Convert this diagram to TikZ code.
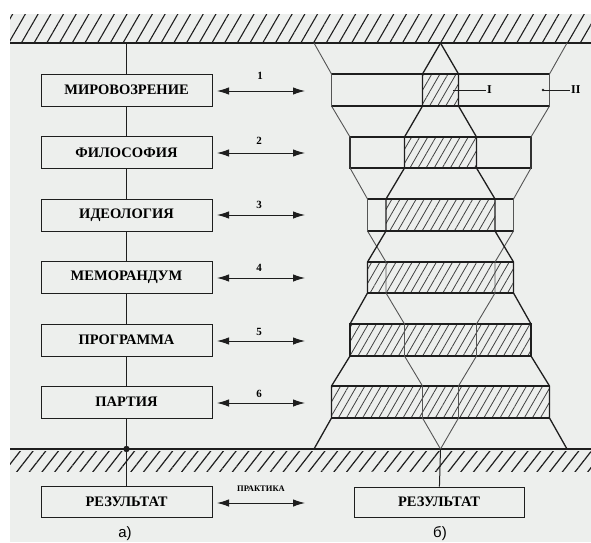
\documentclass[tikz,border=0pt]{standalone}
\usepackage{fontspec}
\setmainfont{Liberation Serif}
\newfontfamily\captfont{Liberation Sans}
\usepackage{tikz}
\usetikzlibrary{arrows.meta, patterns.meta}

\definecolor{paper}{HTML}{EDEFED}
\definecolor{ink}{HTML}{1E1E1E}
\definecolor{soft}{HTML}{555555}

\tikzset{
  stage/.style={draw=ink, line width=1pt, fill=paper, inner sep=0,
    minimum width=171, minimum height=32, font=\fontsize{14.5}{14.5}\selectfont\bfseries},
  link/.style={{Latex[length=12pt,width=7.5pt]}-{Latex[length=12pt,width=7.5pt]}, line width=1pt, ink},
  num/.style={inner sep=0, font=\fontsize{11}{11}\selectfont\bfseries},
  tag/.style={inner sep=1, font=\fontsize{12}{12}\selectfont\bfseries},
  hatchI/.style={pattern={Lines[angle=60,distance=7pt,line width=0.8pt]}, pattern color=ink!85},
  rowline/.style={line width=1.1pt, ink},
  flowI/.style={line width=1.3pt, ink, line join=round},
  flowII/.style={line width=0.9pt, soft, line join=round}
}

\begin{document}
\begin{tikzpicture}[x=1pt, y=-1pt]
  \useasboundingbox (0,0) rectangle (591,542);
  \fill[paper] (10,14) rectangle (591,542);

  % ground, top and bottom
  \fill[pattern={Lines[angle=60,distance=11pt,line width=1.1pt]}, pattern color=ink] (10,14) rectangle (591,43);
  \draw[line width=1.5pt, ink] (10,43) -- (591,43);
  \fill[pattern={Lines[angle=52,distance=10pt,line width=1.2pt]}, pattern color=ink] (10,451) rectangle (591,471);
  \draw[line width=1.5pt, ink] (10,449) -- (591,449);

  % a) chain of stages
  \coordinate (topA) at (126.5,43);
  \coordinate (dotA) at (126.5,449);
  \node[stage] (mir) at (126.5,90) {МИРОВОЗРЕНИЕ};
  \node[stage] (fil) at (126.5,152.5) {ФИЛОСОФИЯ};
  \node[stage] (ide) at (126.5,215) {ИДЕОЛОГИЯ};
  \node[stage] (mem) at (126.5,277.5) {МЕМОРАНДУМ};
  \node[stage] (prog) at (126.5,340) {ПРОГРАММА};
  \node[stage] (part) at (126.5,402) {ПАРТИЯ};
  \node[stage, minimum height=31] (resA) at (126.5,501.5) {РЕЗУЛЬТАТ};
  \draw[line width=1pt, ink] (topA) -- (mir) -- (fil) -- (ide) -- (mem) -- (prog) -- (part) -- (resA);
  \fill[ink] (dotA) circle (3.2);

  % arrows between a) and b)
  \coordinate (l1) at (217,91);  \coordinate (r1) at (305,91);
  \coordinate (l2) at (217,153); \coordinate (r2) at (305,153);
  \coordinate (l3) at (217,215); \coordinate (r3) at (305,215);
  \coordinate (l4) at (217,278); \coordinate (r4) at (305,278);
  \coordinate (l5) at (217,341); \coordinate (r5) at (305,341);
  \coordinate (l6) at (217,403); \coordinate (r6) at (305,403);
  \coordinate (l7) at (217,503); \coordinate (r7) at (305,503);
  \draw[link] (l1) -- (r1);
  \draw[link] (l2) -- (r2);
  \draw[link] (l3) -- (r3);
  \draw[link] (l4) -- (r4);
  \draw[link] (l5) -- (r5);
  \draw[link] (l6) -- (r6);
  \draw[link] (l7) -- (r7);
  \node[num] (n1) at (260,76) {1};
  \node[num] (n2) at (259,141) {2};
  \node[num] (n3) at (259,205) {3};
  \node[num] (n4) at (259,268) {4};
  \node[num] (n5) at (259,332) {5};
  \node[num] (n6) at (259,394) {6};
  \node[inner sep=0, font=\fontsize{8.5}{8.5}\selectfont\bfseries] (prak) at (261,489) {ПРАКТИКА};

  % b) two streams
  \begin{scope}[shift={(440.5,0)}]
    \fill[hatchI] (-18,74) rectangle (18,106);
    \fill[hatchI] (-36,137) rectangle (36,168);
    \fill[hatchI] (-54.5,199) rectangle (54.5,231);
    \fill[hatchI] (-73,262) rectangle (73,293);
    \fill[hatchI] (-90.5,324) rectangle (90.5,356);
    \fill[hatchI] (-109,386) rectangle (109,418);

    \draw[rowline] (-109,74) rectangle (109,106);
    \draw[rowline] (-90.5,137) rectangle (90.5,168);
    \draw[rowline] (-73,199) rectangle (73,231);
    \draw[rowline] (-73,262) rectangle (73,293);
    \draw[rowline] (-90.5,324) rectangle (90.5,356);
    \draw[rowline] (-109,386) rectangle (109,418);

    \draw[flowII] (-126.5,43) -- (-109,74) -- (-109,106) -- (-90.5,137) -- (-90.5,168) -- (-73,199) -- (-73,231)
      -- (-54.5,262) -- (-54.5,293) -- (-36,324) -- (-36,356) -- (-18,386) -- (-18,418) -- (0,449);
    \draw[flowII] (126.5,43) -- (109,74) -- (109,106) -- (90.5,137) -- (90.5,168) -- (73,199) -- (73,231)
      -- (54.5,262) -- (54.5,293) -- (36,324) -- (36,356) -- (18,386) -- (18,418) -- (0,449);
    \draw[flowI] (0,43) -- (-18,74) -- (-18,106) -- (-36,137) -- (-36,168) -- (-54.5,199) -- (-54.5,231)
      -- (-73,262) -- (-73,293) -- (-90.5,324) -- (-90.5,356) -- (-109,386) -- (-109,418) -- (-126.5,449);
    \draw[flowI] (0,43) -- (18,74) -- (18,106) -- (36,137) -- (36,168) -- (54.5,199) -- (54.5,231)
      -- (73,262) -- (73,293) -- (90.5,324) -- (90.5,356) -- (109,386) -- (109,418) -- (126.5,449);
  \end{scope}

  \coordinate (footB) at (440.5,449);
  \node[stage, minimum width=170, minimum height=30] (resB) at (439,502) {РЕЗУЛЬТАТ};
  \draw[line width=1pt, ink] (footB) -- (resB);

  % marks I and II
  \coordinate (ptI) at (453,90);
  \node[tag, anchor=west] (labI) at (486,90) {I};
  \draw[line width=0.8pt, ink] (ptI) -- (labI);
  \coordinate (ptII) at (543,90);
  \fill[ink] (ptII) circle (1.4);
  \node[tag, anchor=west] (labII) at (570,90) {II};
  \draw[line width=0.8pt, ink] (ptII) -- (labII);

  \node[font=\captfont\fontsize{15}{15}\selectfont, anchor=base] (capA) at (125,537.5) {а)};
  \node[font=\captfont\fontsize{15}{15}\selectfont, anchor=base] (capB) at (440,537.5) {б)};
\end{tikzpicture}
\end{document}
